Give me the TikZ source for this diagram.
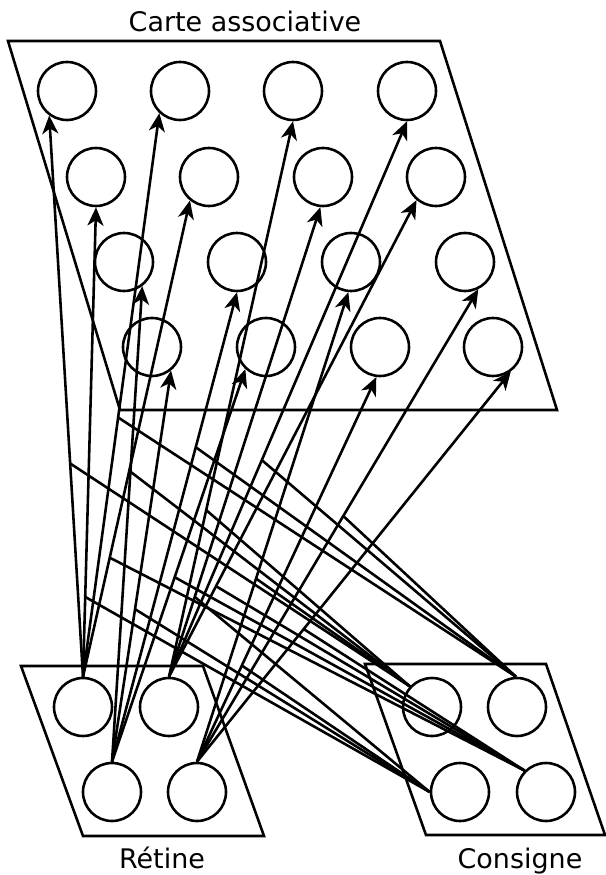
\documentclass[tikz,border=0pt]{standalone}
\usepackage{fontspec}
\setmainfont{DejaVu Sans}
\usetikzlibrary{arrows.meta}
\tikzset{
  neuron/.style={draw, circle, minimum size=1.74cm, inner sep=0pt, line width=2.2pt},
  layer/.style={line width=2.2pt, line join=miter},
  flow/.style={-{Stealth[length=5.5mm, width=4.8mm, inset=1.6mm]}, line width=2.2pt},
  gate/.style={line width=2.2pt},
  title/.style={font=\fontsize{23}{28}\selectfont, anchor=base}
}
\begin{document}
\begin{tikzpicture}[x=0.03cm, y=-0.03cm]
  \useasboundingbox (0,0) rectangle (605,875);
  % the three layers
  \draw[layer] (8,41) -- (440,41) -- (557,410) -- (120,410) -- cycle;
  \draw[layer] (21,666) -- (203,666) -- (264,836) -- (83,836) -- cycle;
  \draw[layer] (365,664) -- (546,664) -- (605,835) -- (426,835) -- cycle;

  % associative map
  \node[neuron] (a11) at (67,91)  {};
  \node[neuron] (a12) at (180,91) {};
  \node[neuron] (a13) at (293,91) {};
  \node[neuron] (a14) at (407,91) {};
  \node[neuron] (a21) at (96,177)  {};
  \node[neuron] (a22) at (209,177) {};
  \node[neuron] (a23) at (323,177) {};
  \node[neuron] (a24) at (436,177) {};
  \node[neuron] (a31) at (124,262) {};
  \node[neuron] (a32) at (237,262) {};
  \node[neuron] (a33) at (351,262) {};
  \node[neuron] (a34) at (465,262) {};
  \node[neuron] (a41) at (152,347) {};
  \node[neuron] (a42) at (266,347) {};
  \node[neuron] (a43) at (380,347) {};
  \node[neuron] (a44) at (493,347) {};
  % retina and command inputs
  \node[neuron] (r1) at (83,707)  {};
  \node[neuron] (r2) at (169,707) {};
  \node[neuron] (r3) at (112,792) {};
  \node[neuron] (r4) at (197,792) {};
  \node[neuron] (k1) at (432,707) {};
  \node[neuron] (k2) at (517,707) {};
  \node[neuron] (k3) at (460,792) {};
  \node[neuron] (k4) at (546,792) {};

  \node[title] (carte) at (245,32) {Carte associative};
  \node[title] (retine) at (162,868) {Rétine};
  \node[title] (consigne) at (520,868) {Consigne};

  % retina -> map (one point kept on each arrow for the command)
  \draw[flow] (r1.north) -- (a11.234) coordinate[pos=0.38] (m11);
  \draw[flow] (r1.north) -- (a12.227) coordinate[pos=0.46] (m12);
  \draw[flow] (r1.north) -- (a21.270) coordinate[pos=0.17] (m21);
  \draw[flow] (r1.north) -- (a22.231) coordinate[pos=0.25] (m22);
  \draw[flow] (r2.north) -- (a13.270) coordinate[pos=0.30] (m13);
  \draw[flow] (r2.north) -- (a14.270) coordinate[pos=0.39] (m14);
  \draw[flow] (r2.north) -- (a23.265) coordinate[pos=0.17] (m23);
  \draw[flow] (r2.north) -- (a24.230) coordinate[pos=0.19] (m24);
  \draw[flow] (r3.north) -- (a31.307) coordinate[pos=0.61] (m31);
  \draw[flow] (r3.north) -- (a32.270) coordinate[pos=0.67] (m32);
  \draw[flow] (r3.north) -- (a41.309) coordinate[pos=0.39] (m41);
  \draw[flow] (r3.north) -- (a42.227) coordinate[pos=0.47] (m42);
  \draw[flow] (r4.north) -- (a33.265) coordinate[pos=0.39] (m33);
  \draw[flow] (r4.north) -- (a34.296) coordinate[pos=0.52] (m34);
  \draw[flow] (r4.north) -- (a43.263) coordinate[pos=0.25] (m43);
  \draw[flow] (r4.north) -- (a44.306) coordinate[pos=0.34] (m44);

  % command -> arrows
  \draw[gate] (k1.137) -- (m11);
  \draw[gate] (k1.137) -- (m13);
  \draw[gate] (k1.137) -- (m31);
  \draw[gate] (k1.137) -- (m33);
  \draw[gate] (k2.92) -- (m12);
  \draw[gate] (k2.92) -- (m14);
  \draw[gate] (k2.92) -- (m32);
  \draw[gate] (k2.92) -- (m34);
  \draw[gate] (k3.180) -- (m21);
  \draw[gate] (k3.180) -- (m23);
  \draw[gate] (k3.180) -- (m41);
  \draw[gate] (k3.180) -- (m43);
  \draw[gate] (k4.135) -- (m22);
  \draw[gate] (k4.135) -- (m24);
  \draw[gate] (k4.135) -- (m42);
  \draw[gate] (k4.135) -- (m44);
\end{tikzpicture}
\end{document}
